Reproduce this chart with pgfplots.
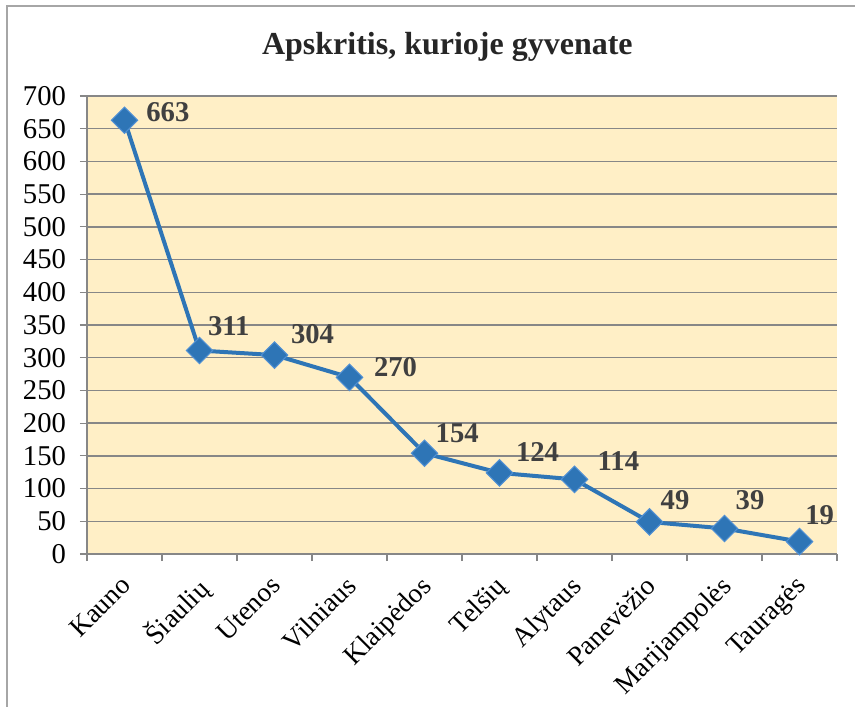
\documentclass[border=0pt]{standalone}
\usepackage{pgfplots}
\pgfplotsset{compat=1.18}
\usepackage{fontspec}
\setmainfont{Liberation Serif}
\definecolor{bgfill}{HTML}{FFEFC6}
\definecolor{linebl}{HTML}{2E75B6}
\definecolor{markedge}{HTML}{4F8FD3}
\definecolor{gridc}{HTML}{878787}
\definecolor{framec}{HTML}{A6A6A6}
\definecolor{lbl}{HTML}{404040}
\pgfplotstableread{
x y dx dy
0 663 16 6
1 311 6 18
2 304 12 16
3 270 18 8
4 154 8 15
5 124 12 16
6 114 17 14
7 49 8 16
8 39 8 21
9 19 4 20
}\datatab
\begin{document}
\begin{tikzpicture}
\useasboundingbox (0,0) rectangle (641.25pt,529.5pt);
\draw[framec, line width=1.2pt] (5.25pt,-10pt) -- (5.25pt,525pt) -- (660pt,525pt);
\node[font=\bfseries\fontsize{24}{28}\selectfont, text=black!85] at (335.5pt,494.5pt) {Apskritis, kurioje gyvenate};
\begin{axis}[
  at={(65.25pt,114pt)}, anchor=south west,
  scale only axis, width=562.5pt, height=343.5pt,
  xmin=-0.5, xmax=9.5, ymin=0, ymax=700,
  clip=false,
  axis x line*=bottom, axis y line*=left,
  axis line style={gridc, line width=1pt},
  axis background/.style={fill=bgfill},
  ytick={0,50,...,700},
  ymajorgrids,
  major grid style={gridc, line width=1pt},
  tick align=outside,
  major tick length=5.25pt,
  tick style={gridc, line width=0.8pt},
  xtick={-0.5,0.5,...,9.5},
  xticklabels={},
  extra x ticks={0,1,2,3,4,5,6,7,8,9},
  extra x tick labels={Kauno,Šiaulių,Utenos,Vilniaus,Klaipėdos,Telšių,Alytaus,Panevėžio,Marijampolės,Tauragės},
  extra x tick style={major tick length=0pt, grid=none,
    xticklabel style={xshift=-4pt, yshift=-10.5pt, rotate=45, anchor=north east, font=\fontsize{20.5}{24}\selectfont}},
  /pgf/number format/assume math mode=true,
  yticklabel style={font=\fontsize{21.5}{24}\selectfont, xshift=-7pt},
  visualization depends on={\thisrow{dx} \as \ldx},
  visualization depends on={\thisrow{dy} \as \ldy},
  nodes near coords,
  every node near coord/.append style={anchor=west, xshift=\ldx pt, yshift=\ldy pt,
    font=\bfseries\fontsize{21.5}{24}\selectfont, text=lbl, inner sep=0pt},
]
\addplot[color=linebl, line width=3pt, mark=square*, mark size=7pt,
  mark options={rotate=45, fill=linebl, draw=markedge, line width=0.8pt}]
  table[x=x, y=y] {\datatab};
\end{axis}
\end{tikzpicture}
\end{document}
